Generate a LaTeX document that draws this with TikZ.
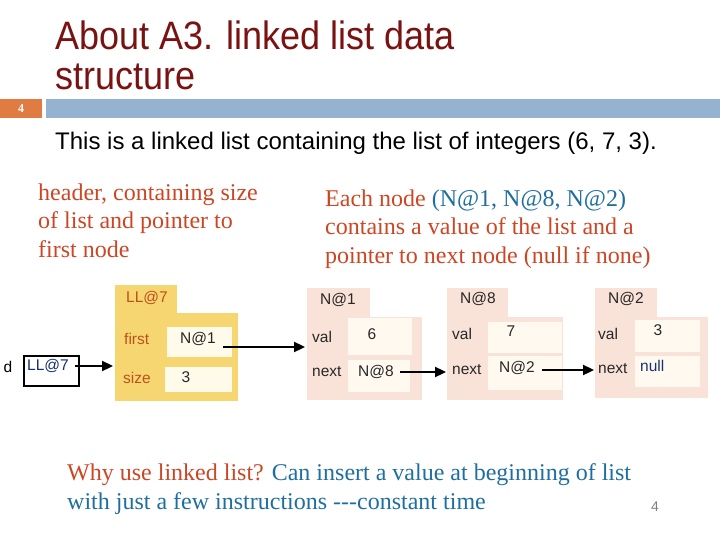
\documentclass[tikz,border=0pt]{standalone}
\usepackage{fontspec}
\setmainfont{Liberation Serif}
\newfontfamily\arial{Liberation Sans}
\usetikzlibrary{arrows.meta}
\definecolor{titlered}{RGB}{122,18,18}
\definecolor{txtred}{RGB}{204,70,36}
\definecolor{txtblue}{RGB}{30,110,160}
\definecolor{barorange}{RGB}{224,124,66}
\definecolor{barblue}{RGB}{149,179,208}
\definecolor{hdryellow}{RGB}{246,214,112}
\definecolor{hdrfield}{RGB}{255,251,235}
\definecolor{nodepink}{RGB}{249,226,216}
\definecolor{nodefield}{RGB}{255,249,240}
\definecolor{lblbrown}{RGB}{190,80,30}
\definecolor{darkblue}{RGB}{20,50,110}
\definecolor{lblgray}{RGB}{40,40,40}
\begin{document}
\begin{tikzpicture}[x=1pt,y=-1pt,
  box/.style={anchor=north west, inner sep=0pt, outer sep=0pt, draw=none},
  hbox/.style={box, fill=hdryellow},
  hfield/.style={box, fill=hdrfield},
  pbox/.style={box, fill=nodepink},
  pfield/.style={box, fill=nodefield},
  lbl/.style={inner sep=0pt, text=lblgray, font=\arial\fontsize{15.5}{18}\selectfont},
  hlbl/.style={lbl, text=lblbrown},
  serif/.style={inner sep=0pt, anchor=base west, font=\fontsize{24}{28}\selectfont},
  ttl/.style={inner sep=0pt, anchor=base west, text=titlered, font=\arial\fontsize{36}{40}\selectfont, yscale=1.1},
  arr/.style={line width=2.3pt, -{Triangle[length=11pt,width=10pt]}}]
\useasboundingbox (0,0) rectangle (720,540);

% title
\node[ttl] (t1) at (55,50) {About A3. linked list data};
\node[ttl] (t2) at (55,90) {structure};

% band
\node[box, fill=barorange, minimum width=42pt, minimum height=19pt] (pgbox) at (0,99) {};
\node[inner sep=0pt, text=white, font=\bfseries\fontsize{12}{14}\selectfont] (pgnum) at (pgbox.center) {4};
\node[box, fill=barblue, minimum width=674pt, minimum height=19pt] (band) at (46,99) {};

% subtitle
\node[inner sep=0pt, anchor=base west, font=\arial\fontsize{24}{28}\selectfont] (sub) at (55,150) {This is a linked list containing the list of integers (6, 7, 3).};

% left description
\node[serif, text=txtred] (l1) at (38,201) {header, containing size};
\node[serif, text=txtred] (l2) at (38,229) {of list and pointer to};
\node[serif, text=txtred] (l3) at (38,257) {first node};

% right description
\node[serif, text=txtred] (r1) at (325,207) {Each node \textcolor{txtblue}{(N@1, N@8, N@2)}};
\node[serif, text=txtred] (r2) at (325,235) {contains a value of the list and a};
\node[serif, text=txtred] (r3) at (325,263) {pointer to next node (null if none)};

% variable d
\node[lbl, text=black] (dlbl) at (8,367) {d};
\node[anchor=north west, draw=black, line width=1.6pt, minimum width=55pt, minimum height=30pt, inner sep=0pt] (dbox) at (23,355) {};
\node[lbl, text=darkblue, anchor=west] (dval) at (27,366) {LL@7};

% header object
\node[hbox, minimum width=62pt, minimum height=30pt] (htab) at (115,285) {};
\node[hbox, minimum width=123pt, minimum height=88pt] (hdr) at (115,313) {};
\node[hlbl] (htabtxt) at (147,298) {LL@7};
\node[hfield, minimum width=65pt, minimum height=30pt] (hfirst) at (167,327) {};
\node[hfield, minimum width=67pt, minimum height=25pt] (hsize) at (165,367) {};
\node[hlbl, anchor=west] (hfirstlbl) at (124,339) {first};
\node[hlbl, anchor=west] (hsizelbl) at (123,378) {size};
\node[lbl] (hfirstval) at (198,339) {N@1};
\node[lbl] (hsizeval) at (186,377) {3};

% node N@1
\node[pbox, minimum width=63pt, minimum height=30pt] (n1tab) at (307,288) {};
\node[pbox, minimum width=115pt, minimum height=83pt] (n1) at (307,317) {};
\node[lbl] (n1txt) at (338,300) {N@1};
\node[pfield, minimum width=64pt, minimum height=37pt] (n1val) at (348,318) {};
\node[pfield, minimum width=62pt, minimum height=32pt] (n1next) at (348,360) {};
\node[lbl, anchor=west] (n1vallbl) at (312,337) {val};
\node[lbl, anchor=west] (n1nextlbl) at (312,372) {next};
\node[lbl] (n1v) at (372,334) {6};
\node[lbl] (n1n) at (376,372) {N@8};

% node N@8
\node[pbox, minimum width=61pt, minimum height=30pt] (n8tab) at (447,288) {};
\node[pbox, minimum width=116pt, minimum height=83pt] (n8) at (447,317) {};
\node[lbl] (n8txt) at (478,299) {N@8};
\node[pfield, minimum width=74pt, minimum height=31pt] (n8val) at (488,322) {};
\node[pfield, minimum width=74pt, minimum height=34pt] (n8next) at (488,356) {};
\node[lbl, anchor=west] (n8vallbl) at (452,334) {val};
\node[lbl, anchor=west] (n8nextlbl) at (452,370) {next};
\node[lbl] (n8v) at (511,331) {7};
\node[lbl] (n8n) at (517,368) {N@2};

% node N@2
\node[pbox, minimum width=62pt, minimum height=30pt] (n2tab) at (595,288) {};
\node[pbox, minimum width=113pt, minimum height=81pt] (n2) at (595,317) {};
\node[lbl] (n2txt) at (626,299) {N@2};
\node[pfield, minimum width=65pt, minimum height=32pt] (n2val) at (635,320) {};
\node[pfield, minimum width=65pt, minimum height=31pt] (n2next) at (635,356) {};
\node[lbl, anchor=west] (n2vallbl) at (598,334) {val};
\node[lbl, anchor=west] (n2nextlbl) at (598,369) {next};
\node[lbl] (n2v) at (658,330) {3};
\node[lbl, anchor=west, text=darkblue] (n2n) at (640,366) {null};

% arrows
\coordinate (a0) at (75,366);
\coordinate (a1) at (223,347);
\coordinate (a2) at (400,372);
\coordinate (a3) at (542,370);
\draw[arr] (a0) -- ([xshift=-2pt]hdr.west |- a0);
\draw[arr] (a1) -- ([xshift=-2pt]n1.west |- a1);
\draw[arr] (a2) -- ([xshift=-1pt]n8.west |- a2);
\draw[arr] (a3) -- ([xshift=-1pt]n2.west |- a3);

% bottom text
\node[serif, text=txtred] (b1) at (67,480) {Why use linked list? \textcolor{txtblue}{Can insert a value at beginning of list}};
\node[serif, text=txtblue] (b2) at (67,509) {with just a few instructions {-}{-}{-}constant time};
\node[inner sep=0pt, text=gray, font=\arial\fontsize{14}{16}\selectfont] (pnum) at (655,507) {4};
\end{tikzpicture}
\end{document}
